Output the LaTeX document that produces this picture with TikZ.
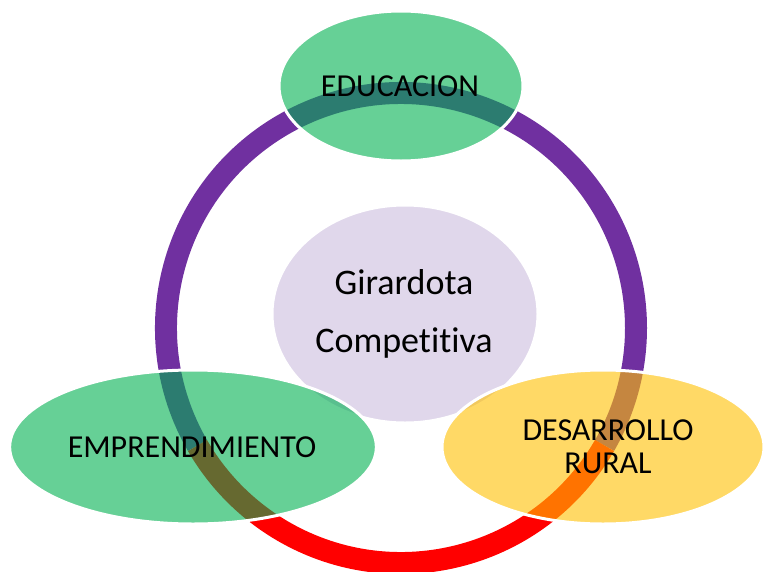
\documentclass[tikz,border=0pt]{standalone}
\usepackage{xcolor}
\usepackage{fontspec}
\setmainfont{Carlito}[Ligatures=NoCommon]
\usetikzlibrary{shapes.geometric}
\definecolor{ringpurple}{HTML}{7030A0}
\definecolor{ringred}{HTML}{FF0000}
\definecolor{leafgreen}{HTML}{00B050}
\definecolor{leafyellow}{HTML}{FFC000}
\definecolor{hublilac}{HTML}{E0D7EB}

\begin{document}
\begin{tikzpicture}[x=0.75pt,y=0.75pt,yscale=-1,xscale=1,
  ringarc/.style={line width=16.5pt},
  leaf/.style={ellipse,draw=white,line width=2.25pt,fill opacity=0.6,inner sep=0pt,minimum height=115.5pt},
  leaftext/.style={align=center,inner sep=0.75pt,font=\fontsize{24}{25}\selectfont}]
\useasboundingbox (0,0) rectangle (763,571);

%Shape: Ring [purple part]
\coordinate (ringc) at (401,328);
\draw [ringarc,ringpurple] (ringc) ++(150:235) arc (150:390:235);
%Shape: Ring [red part]
\draw [ringarc,ringred] (ringc) ++(30:235) arc (30:150:235);

%Shape: Ellipse [centre]
\node [ellipse,draw=white,line width=2.25pt,fill=hublilac,minimum width=199.5pt,minimum height=163.5pt,inner sep=0pt] (hub) at (405,314) {};
% Text Node
\node [align=center,inner sep=0.75pt,font=\fontsize{27}{43.5}\selectfont] (hubtext) at (404,314) {Girardota\\Competitiva};

%Shape: Ellipse
\node [leaf,fill=leafgreen,minimum width=183pt,minimum height=112.5pt] (educ) at (401,86) {};
%Shape: Ellipse
\node [leaf,fill=leafgreen,minimum width=275pt] (empr) at (193,447) {};
%Shape: Ellipse
\node [leaf,fill=leafyellow,minimum width=241.5pt] (rural) at (603,447) {};

% Text Node
\node [leaftext] (eductext) at (400,86) {EDUCACION};
% Text Node
\node [leaftext] (emprtext) at (192,447) {EMPRENDIMIENTO};
% Text Node
\node [leaftext] (ruraltext) at (608,447) {DESARROLLO\\RURAL};

\end{tikzpicture}
\end{document}
